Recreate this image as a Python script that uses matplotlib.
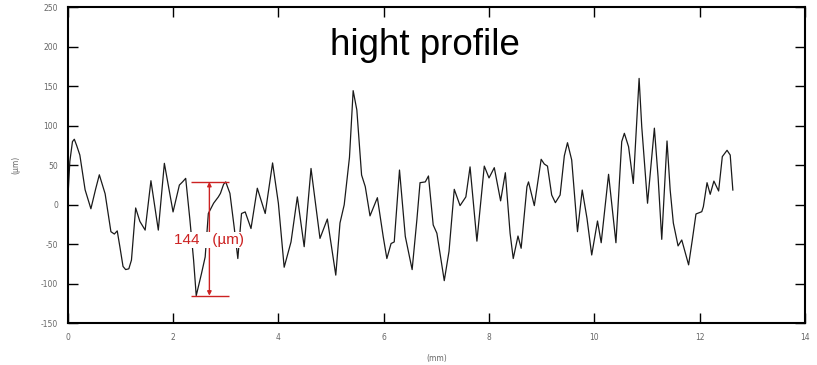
import matplotlib
matplotlib.use("Agg")
import matplotlib.pyplot as plt

plt.rcParams["axes.unicode_minus"] = False

# Surface height profile: position along the trace (mm) and height (µm)
position_mm = [
    0.0, 0.04, 0.09, 0.125, 0.17, 0.23, 0.33, 0.44, 0.53, 0.6, 0.71, 0.82,
    0.885, 0.94, 0.99, 1.05, 1.1, 1.16, 1.21, 1.29, 1.37, 1.47, 1.58, 1.72,
    1.835, 2.0, 2.12, 2.18, 2.24, 2.32, 2.39, 2.44, 2.54, 2.61, 2.67, 2.77,
    2.86, 2.9, 2.96, 3.0, 3.08, 3.16, 3.23, 3.3, 3.37, 3.48, 3.6, 3.75,
    3.89, 4.0, 4.11, 4.24, 4.36, 4.49, 4.62, 4.79, 4.93, 5.09, 5.17, 5.25,
    5.35, 5.42, 5.49, 5.58, 5.65, 5.74, 5.88, 5.99, 6.06, 6.14, 6.2, 6.3,
    6.41, 6.54, 6.63, 6.69, 6.79, 6.85, 6.94, 7.01, 7.15, 7.24, 7.34, 7.45,
    7.56, 7.64, 7.77, 7.91, 8.0, 8.1, 8.22, 8.31, 8.4, 8.46, 8.55, 8.61,
    8.72, 8.75, 8.86, 8.99, 9.05, 9.11, 9.19, 9.26, 9.35, 9.43, 9.49, 9.57,
    9.68, 9.77, 9.86, 9.95, 10.06, 10.13, 10.27, 10.41, 10.52, 10.57, 10.65,
    10.74, 10.85, 10.9, 11.01, 11.14, 11.21, 11.28, 11.38, 11.44, 11.5,
    11.59, 11.66, 11.79, 11.86, 11.93, 12.04, 12.07, 12.14, 12.2, 12.27,
    12.36, 12.43, 12.52, 12.58, 12.63,
]
height_um = [
    5, 55, 80, 83, 75, 63, 19, -5, 20, 38, 14, -34,
    -37, -33, -53, -78, -82, -81, -70, -4, -21, -32, 30.5, -32,
    52.5, -9, 25, 29, 33.5, -19, -70, -115, -87, -66, -11, 2,
    10, 14.5, 26, 29, 14.5, -28, -68, -11, -9, -30, 21, -11,
    53, 2, -79, -47, 10, -53, 46, -42.5, -18, -89, -23, 0,
    60, 144.5, 120, 37.7, 23, -14, 9, -40, -68, -49, -47, 44,
    -40, -82, -19, 28, 29, 36.5, -25.5, -36, -96, -59, 19.6, -1,
    10, 48, -46, 49, 34, 47, 5, 40.6, -36, -68, -39.5, -55,
    23, 29, -1, 57.6, 51.6, 49, 12.4, 2.7, 12.4, 62, 78.6, 56.7,
    -34, 18.7, -17, -63.5, -20.5, -48, 38.6, -48, 80, 90.5, 73.5,
    27, 160, 99, 2, 97, 35.6, -43.7, 80.8, 18.7, -23,
    -52, -44.5, -76, -44.5, -11.6, -8.7, -2.4, 28, 13.3, 30,
    17.5, 61, 69, 63, 18.7,
]

# Peak-to-valley marker
pv_top = 29
pv_bottom = -115
pv_value = pv_top - pv_bottom
pv_x = 2.69
pv_span = (2.345, 3.07)

x_ticks = [0, 2, 4, 6, 8, 10, 12, 14]
y_ticks = [-150, -100, -50, 0, 50, 100, 150, 200, 250]

fig = plt.figure(figsize=(8.17, 3.65), dpi=100)
ax = fig.add_axes([0.0829, 0.1142, 0.9024, 0.8658])

ax.plot(position_mm, height_um, color="#1a1a1a", lw=0.9, zorder=2,
        solid_joinstyle="round")

ax.set_xlim(0, 14)
ax.set_ylim(-150, 250)
ax.set_xticks(x_ticks)
ax.set_yticks(y_ticks)
ax.tick_params(direction="in", length=7.5, width=1.0, top=True, right=True,
               labelsize=5.5, labelcolor="#666666", color="black")
ax.tick_params(axis="y", pad=7)
ax.tick_params(axis="x", pad=7)
for s in ax.spines.values():
    s.set_linewidth(1.5)

ax.set_xlabel("(mm)", fontsize=5.5, color="#666666")
ax.xaxis.set_label_coords(0.5, -0.097)
ax.set_ylabel("(µm)", fontsize=5.5, color="#666666")
ax.yaxis.set_label_coords(-0.0647, 0.5)

ax.text(6.78, 189.6, "hight profile", fontsize=26.5, ha="center",
        va="baseline", family="Liberation Sans", color="black")

red = "#cc2222"
ax.hlines([pv_top, pv_bottom], pv_span[0], pv_span[1], color=red, lw=1.0,
          zorder=3)
ax.annotate("", xy=(pv_x, pv_top), xytext=(pv_x, pv_bottom),
            arrowprops=dict(arrowstyle="<|-|>", color=red, lw=1.0,
                            mutation_scale=6, shrinkA=0, shrinkB=0),
            zorder=3)
ax.text(pv_x, -44.5, f"{pv_value}   (µm)", fontsize=11, color=red,
        ha="center", va="center", family="Liberation Sans", zorder=4,
        bbox=dict(facecolor="white", edgecolor="none", pad=0.5))

fig.savefig("out.png", dpi=100)
